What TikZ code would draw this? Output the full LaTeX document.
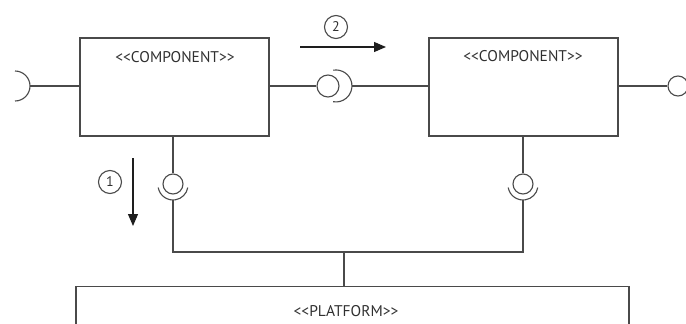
\documentclass[tikz,border=0pt]{standalone}
\usepackage{fontspec}
\newfontfamily\lblfont{PT Sans}
\usetikzlibrary{arrows.meta}
\newcommand\dlt{<\kern0pt<}
\newcommand\dgt{>\kern0pt>}
\definecolor{ln}{HTML}{4A4A4A}
\definecolor{tx}{HTML}{303030}
\definecolor{fl}{HTML}{1E1E1E}
\begin{document}
\begin{tikzpicture}[x=1pt,y=-1pt,color=ln,line width=1.1pt,
  comp/.style={draw=ln,rectangle,inner sep=0pt,minimum width=189pt,minimum height=98pt},
  lbl/.style={font=\lblfont\fontsize{15.5}{16}\selectfont,text=tx,inner sep=0pt},
  ball/.style={draw=ln,circle,inner sep=0pt},
  num/.style={draw=ln,circle,inner sep=0pt,minimum size=23pt,font=\lblfont\fontsize{14}{15}\selectfont,text=tx},
  flow/.style={draw=fl,-{Triangle[length=12pt,width=10pt]}}]
\clip (0,0) rectangle (686,324);
% components
\node[comp] (c1) at (174.5,87) {};
\node[comp] (c2) at (523.5,87) {};
\node[lbl] (t1) at (175,57) {\dlt COMPONENT\dgt};
\node[lbl] (t2) at (523,56) {\dlt COMPONENT\dgt};
% platform
\node[draw=ln,rectangle,inner sep=0pt,minimum width=553pt,minimum height=80pt,anchor=north] (pf) at (352.5,286) {};
\node[lbl] (tp) at (346,311) {\dlt PLATFORM\dgt};
% left required interface
\coordinate (sl) at (30,86);
\draw (c1.west |- sl) -- (sl);
\draw (15,71) arc[start angle=-90,end angle=90,radius=15];
% middle assembly
\node[ball,minimum size=22pt] (b12) at (328,86) {};
\coordinate (s12) at (352,86);
\draw (c1.east |- b12) -- (b12.west);
\draw (333.2,70.2) arc[start angle=-100,end angle=100,radius=16];
\draw (s12) -- (c2.west |- s12);
% right provided interface
\node[ball,minimum size=20pt] (br) at (678,86) {};
\draw (c2.east |- br) -- (br.west);
% bottom assemblies
\node[ball,minimum size=20pt] (bb1) at (173,184) {};
\node[ball,minimum size=20pt] (bb2) at (523,184) {};
\draw (c1.south -| bb1) -- (bb1.north);
\draw (c2.south -| bb2) -- (bb2.north);
\draw ([shift={(170:15)}]173,185) arc[start angle=170,end angle=10,radius=15];
\draw ([shift={(170:15)}]523,185) arc[start angle=170,end angle=10,radius=15];
\coordinate (k1) at (173,200);
\coordinate (k2) at (523,200);
\coordinate (bus) at (344,252);
\draw (k1) |- (bus) -| (k2);
\draw (bus) -- (pf.north -| bus);
% flow arrows
\coordinate (a1s) at (133,158);
\coordinate (a1e) at (133,226);
\draw[flow] (a1s) -- (a1e);
\node[num] (n1) at (110,182) {1};
\coordinate (a2s) at (300,47);
\coordinate (a2e) at (386,47);
\draw[flow] (a2s) -- (a2e);
\node[num] (n2) at (336,27) {2};
\end{tikzpicture}
\end{document}
